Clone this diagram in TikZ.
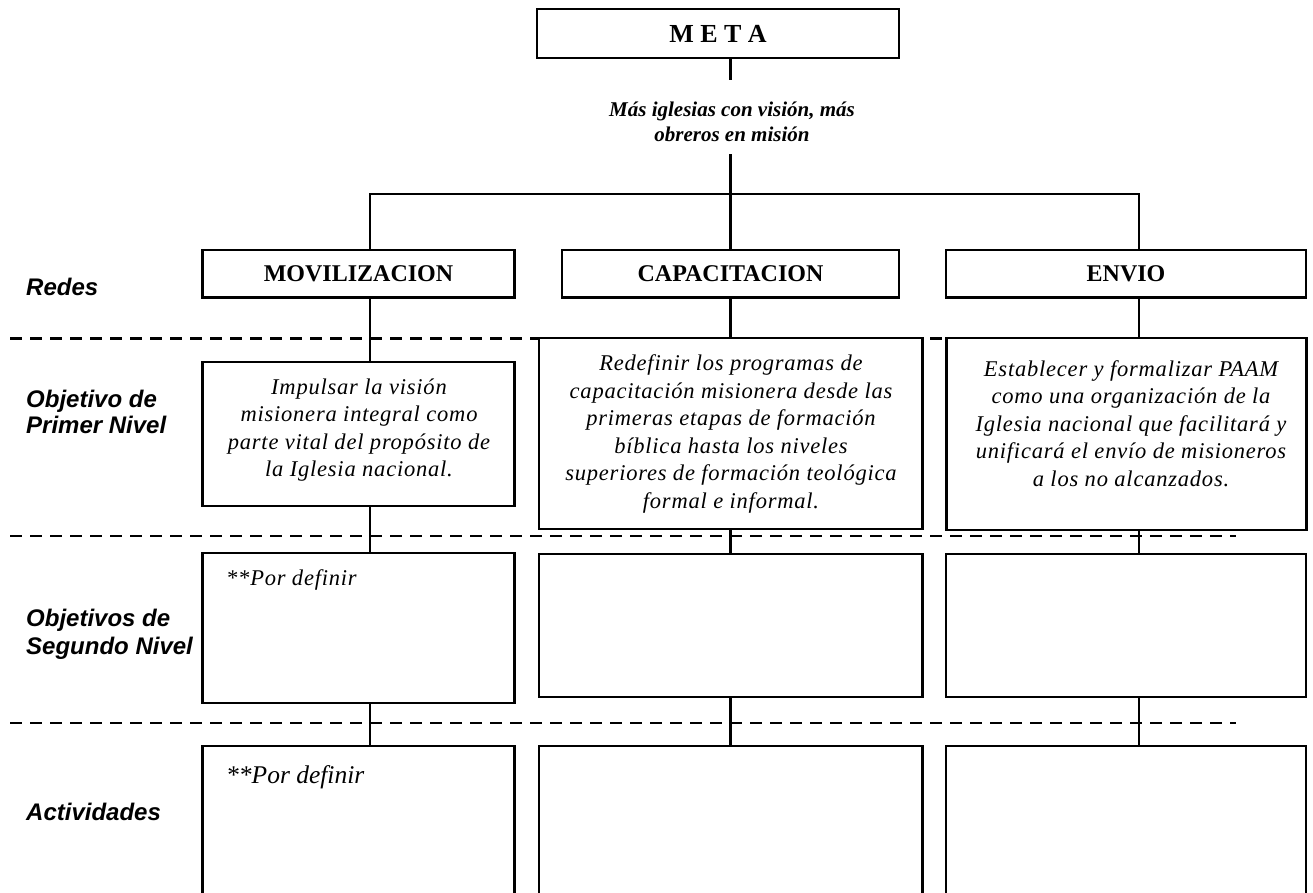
\documentclass[tikz,border=0pt]{standalone}
\usepackage{fontspec}
\setmainfont{Liberation Serif}
\newfontfamily\lblfont{Liberation Sans}
\newfontfamily\descfont[LetterSpace=3.5]{Liberation Serif}
\begin{document}
\begin{tikzpicture}[x=1pt,y=-1pt,
  box/.style={draw, line width=2.3pt, fill=white, inner sep=0pt},
  conn/.style={line width=2.1pt},
  sep/.style={line width=2.3pt, dash pattern=on 12pt off 8pt},
  head/.style={font=\fontsize{24}{28}\selectfont\bfseries},
  desc/.style={font=\descfont\fontsize{22.5}{27.5}\selectfont\itshape, align=center, inner sep=0pt},
  goaltext/.style={font=\fontsize{21}{25}\selectfont\bfseries\itshape, align=center, inner sep=0pt},
  lbl/.style={font=\lblfont\fontsize{24}{27}\selectfont\bfseries\itshape, anchor=base west, inner sep=0pt},
  note/.style={font=\fontsize{25.5}{30}\selectfont\itshape, anchor=base west, inner sep=0pt}
]
\useasboundingbox (0,0) rectangle (1313,892);
\clip (0,0) rectangle (1313,892);

% separators
\draw[sep] (10,338.5) -- (1236,338.5);
\draw[sep] (10,536) -- (1236,536);
\draw[sep] (10,723) -- (1236,723);

% top
\node[box, minimum width=362, minimum height=49, font=\fontsize{26}{30}\selectfont\bfseries] (meta) at (718,33.5) {M E T A};
\node[goaltext] (goal) at (732,122) {Más iglesias con visión, más\\obreros en misión};

% redes
\node[box, head, minimum width=312, minimum height=47.5] (mov) at (358.5,273.75) {MOVILIZACION};
\node[box, head, minimum width=337, minimum height=47.5] (cap) at (730.5,273.75) {CAPACITACION};
\node[box, head, minimum width=360, minimum height=47.5] (env) at (1126,273.75) {ENVIO};

% objetivo primer nivel
\node[box, minimum width=312, minimum height=144] (o1) at (358.5,434) {};
\node[box, minimum width=383.5, minimum height=191] (o2) at (730.75,433.5) {};
\node[box, minimum width=360, minimum height=192] (o3) at (1126.5,434) {};
\node[desc] (t1) at (359,430.25) {Impulsar la visión\\misionera integral como\\parte vital del propósito de\\la Iglesia nacional.};
\node[desc] (t2) at (731,433.75) {Redefinir los programas de\\capacitación misionera desde las\\primeras etapas de formación\\bíblica hasta los niveles\\superiores de formación teológica\\formal e informal.};
\node[desc] (t3) at (1131,423.25) {Establecer y formalizar PAAM\\como una organización de la\\Iglesia nacional que facilitará y\\unificará el envío de misioneros\\a los no alcanzados.};

% objetivos segundo nivel
\node[box, minimum width=312, minimum height=150] (s1) at (358.5,628) {};
\node[box, minimum width=383.5, minimum height=143] (s2) at (730.75,625.5) {};
\node[box, minimum width=360, minimum height=143] (s3) at (1126,625.5) {};
\node[desc, anchor=base west] (p1) at (226,585) {**Por definir};

% actividades
\node[box, minimum width=312, minimum height=170] (a1) at (358.5,831) {};
\node[box, minimum width=383.5, minimum height=170] (a2) at (730.75,831) {};
\node[box, minimum width=360, minimum height=170] (a3) at (1126,831) {};
\node[note] (p2) at (226,783) {**Por definir};

% connectors
\coordinate (l1) at (370,0);
\coordinate (l2) at (730.5,0);
\coordinate (l3) at (1139,0);
\coordinate (gtop) at (730.5,80);
\coordinate (gbot) at (730.5,154);
\coordinate (bus) at (730.5,194);
\draw[conn] (meta.south -| gtop) -- (gtop);
\draw[conn] (gbot) -- (cap.north -| l2);
\draw[conn] (mov.north -| l1) |- (bus) -| (env.north -| l3);
\draw[conn] (mov.south -| l1) -- (o1.north -| l1);
\draw[conn] (o1.south -| l1) -- (s1.north -| l1);
\draw[conn] (s1.south -| l1) -- (a1.north -| l1);
\draw[conn] (cap.south -| l2) -- (o2.north -| l2);
\draw[conn] (o2.south -| l2) -- (s2.north -| l2);
\draw[conn] (s2.south -| l2) -- (a2.north -| l2);
\draw[conn] (env.south -| l3) -- (o3.north -| l3);
\draw[conn] (o3.south -| l3) -- (s3.north -| l3);
\draw[conn] (s3.south -| l3) -- (a3.north -| l3);

% row labels
\node[lbl] (lr) at (26,295) {Redes};
\node[lbl] (lo1a) at (26,407) {Objetivo de};
\node[lbl] (lo1b) at (26,433) {Primer Nivel};
\node[lbl] (lo2a) at (26,626) {Objetivos de};
\node[lbl] (lo2b) at (26,654) {Segundo Nivel};
\node[lbl] (la) at (26,820) {Actividades};
\end{tikzpicture}
\end{document}
